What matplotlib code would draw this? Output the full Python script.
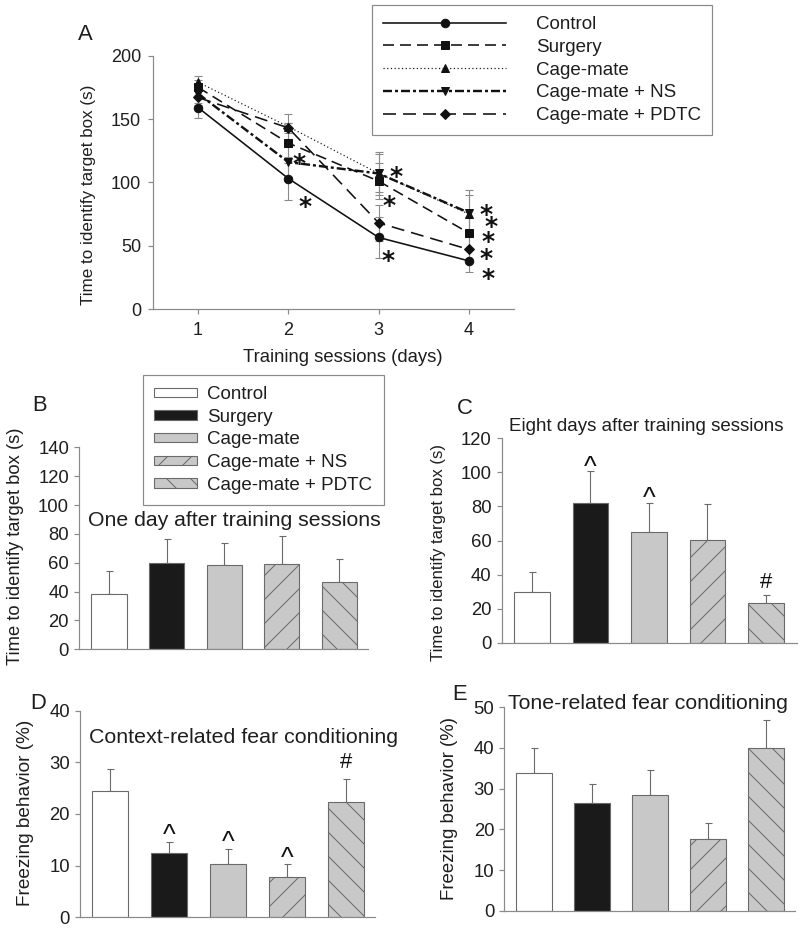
import matplotlib
matplotlib.use('Agg')
import matplotlib.pyplot as plt
from matplotlib.lines import Line2D
from matplotlib.patches import Patch
import numpy as np

plt.rcParams['font.family'] = ['Liberation Sans', 'DejaVu Sans']
plt.rcParams['lines.scale_dashes'] = False
plt.rcParams['hatch.linewidth'] = 1.0

W, H, DPI = 800, 928, 72

# ---------------- data ----------------
days = [1, 2, 3, 4]
groups = ['Control', 'Surgery', 'Cage-mate', 'Cage-mate + NS', 'Cage-mate + PDTC']

control_a = [159, 103, 56.5, 38]
surgery_a = [175, 131, 101, 60]
cagemate_a = [179, 144, 107, 75]
ns_a = [170, 116, 107, 76]
pdtc_a = [167, 143, 68, 47]

control_a_err = [8, 17, 16, 9]
surgery_a_err = [6, 16, 14, 12]
cagemate_a_err = [5, 10, 17, 15]
ns_a_err = [7, 12, 15, 18]
pdtc_a_err = [6, 4, 14, 10]

star_x = [2.12, 2.18, 3.19, 3.12, 3.11, 4.19, 4.25, 4.21, 4.19, 4.21]
star_y = [120, 86, 110, 86.5, 43.5, 79.6, 70, 58.5, 45.3, 29.5]

b_mean = [38.4, 59.6, 58.2, 58.9, 46.7]
b_err = [16.1, 17.1, 15.7, 19.4, 16.1]
c_mean = [29.6, 82.2, 65.2, 60.3, 23.1]
c_err = [11.7, 18.6, 16.6, 20.9, 4.7]
d_mean = [24.5, 12.4, 10.3, 7.8, 22.3]
d_err = [4.2, 2.1, 2.9, 2.5, 4.4]
e_mean = [33.8, 26.4, 28.4, 17.6, 40.1]
e_err = [6.1, 4.7, 6.2, 3.9, 6.8]

c_marks = ['', '^', '^', '', '#']
c_mark_y = [0, 107, 88.7, 0, 36.8]
d_marks = ['', '^', '^', '^', '#']
d_mark_y = [0, 17.2, 15.9, 12.7, 30.4]

# ---------------- helpers ----------------
def rect(l, t, r, b):
    return [l / W, 1 - b / H, (r - l) / W, (b - t) / H]

def fx(px):
    return px / W

def fy(py):
    return 1 - py / H

TXT = '#1e1e1e'
GRAY = '#8a8a8a'
EDGE = '#6a6a6a'

fig = plt.figure(figsize=(W / DPI, H / DPI), dpi=DPI)

def style_axes(ax, labelsize):
    for s in ['top', 'right']:
        ax.spines[s].set_visible(False)
    for s in ['left', 'bottom']:
        ax.spines[s].set_color(GRAY)
        ax.spines[s].set_linewidth(1.2)
    ax.tick_params(axis='y', length=5, width=1.2, color=GRAY, pad=5,
                   labelsize=labelsize, labelcolor=TXT)

# ---------------- Panel A ----------------
axA = fig.add_axes(rect(153, 55.7, 514, 309))
style_axes(axA, 18)
axA.tick_params(axis='x', length=5, width=1.2, color=GRAY, pad=8,
                labelsize=18, labelcolor=TXT)
axA.tick_params(axis='y', pad=7)

series = [control_a, surgery_a, cagemate_a, ns_a, pdtc_a]
series_err = [control_a_err, surgery_a_err, cagemate_a_err, ns_a_err, pdtc_a_err]
line_styles = [
    dict(ls='-', lw=1.6, marker='o', ms=8.5),
    dict(ls=(0, (11, 6)), lw=1.6, marker='s', ms=7.5),
    dict(ls=(0, (1.2, 2.5)), lw=1.2, marker='^', ms=8.5),
    dict(ls=(0, (9, 3, 3, 3)), lw=2.4, marker='v', ms=8.5),
    dict(ls=(0, (13, 7)), lw=1.6, marker='D', ms=7),
]
for vals, err in zip(series, series_err):
    axA.errorbar(days, vals, yerr=err, fmt='none', ecolor=GRAY, elinewidth=1.1,
                 capsize=4, capthick=1.1, zorder=1)
handlesA = []
for vals, st in zip(series, line_styles):
    axA.plot(days, vals, color='#111111', mfc='#111111', mec='#111111',
             zorder=3, **st)
    handlesA.append(Line2D([], [], color='#111111', mfc='#111111', mec='#111111', **st))

for x, y in zip(star_x, star_y):
    axA.annotate('*', (x, y), xytext=(0, -7), textcoords='offset pixels',
                 ha='center', va='center', fontsize=25, fontweight='bold',
                 color='#111111', family='DejaVu Sans')

axA.set_xlim(0.5, 4.5)
axA.set_ylim(0, 200)
axA.set_xticks(days)
axA.set_yticks([0, 50, 100, 150, 200])
axA.set_ylabel('Time to identify target box (s)', fontsize=17, color=TXT)
axA.yaxis.label.set_va('center')
axA.yaxis.set_label_coords(fx(88.5), fy(195), transform=fig.transFigure)
axA.set_xlabel('Training sessions (days)', fontsize=18.5, color=TXT)
axA.xaxis.label.set_va('center')
axA.xaxis.set_label_coords(fx(343), fy(357), transform=fig.transFigure)

legA = fig.legend(handlesA, groups, loc='upper left',
                  bbox_to_anchor=(fx(372), fy(5)), borderaxespad=0,
                  fontsize=18.7, handlelength=123 / 18.7, handletextpad=30 / 18.7,
                  labelspacing=0.3, borderpad=0.6, numpoints=1,
                  fancybox=False, framealpha=1, edgecolor=GRAY)
legA.get_frame().set_linewidth(1.2)
for t in legA.get_texts():
    t.set_color(TXT)

# ---------------- bar panels ----------------
fills = ['#ffffff', '#1a1a1a', '#c8c8c8', '#c8c8c8', '#c8c8c8']
hatches = ['', '', '', '/', '\\']

def bar_panel(box, means, errs, xlim, ylim, yticks):
    ax = fig.add_axes(rect(*box))
    style_axes(ax, 18.5)
    ax.tick_params(axis='x', length=0, labelbottom=False)
    x = np.arange(len(means))
    for i in range(len(means)):
        ax.bar(x[i], means[i], width=0.61, color=fills[i], edgecolor=EDGE,
               hatch=hatches[i], linewidth=1.1, zorder=2)
    ax.errorbar(x, means, yerr=[np.zeros(len(errs)), errs], fmt='none',
                ecolor=EDGE, elinewidth=1.1, capsize=3.5, capthick=1.1, zorder=1)
    ax.set_xlim(*xlim)
    ax.set_ylim(*ylim)
    ax.set_yticks(yticks)
    return ax

axB = bar_panel((79, 447.3, 368.3, 649.3), b_mean, b_err, (-0.52, 4.5), (0, 140),
                range(0, 141, 20))
axC = bar_panel((501.7, 438.3, 796.7, 642.7), c_mean, c_err, (-0.52, 4.53), (0, 120),
                range(0, 121, 20))
axD = bar_panel((80, 710.7, 375, 917.3), d_mean, d_err, (-0.5, 4.49), (0, 40),
                range(0, 41, 10))
axE = bar_panel((504.3, 707.3, 795, 910.7), e_mean, e_err, (-0.51, 4.5), (0, 50),
                range(0, 51, 10))

def ylab(ax, text, size, px, py):
    ax.set_ylabel(text, fontsize=size, color=TXT)
    ax.yaxis.label.set_va('center')
    ax.yaxis.set_label_coords(fx(px), fy(py), transform=fig.transFigure)

ylab(axB, 'Time to identify target box (s)', 18.4, 15.5, 546)
ylab(axC, 'Time to identify target box (s)', 16.8, 438.5, 552.5)
ylab(axD, 'Freezing behavior (%)', 19, 25.5, 813)
ylab(axE, 'Freezing behavior (%)', 18.6, 449.5, 808.5)

def marks(ax, labels, ys):
    for i, (m, y) in enumerate(zip(labels, ys)):
        if not m:
            continue
        if m == '^':
            ax.annotate(m, (i, y), xytext=(0, -7.5), textcoords='offset pixels',
                        ha='center', va='center', fontsize=27, color='#111111')
        else:
            ax.annotate(m, (i, y), xytext=(0, -2.3), textcoords='offset pixels',
                        ha='center', va='center', fontsize=22, color='#111111')

marks(axC, c_marks, c_mark_y)
marks(axD, d_marks, d_mark_y)

handlesB = [Patch(facecolor=f, edgecolor=EDGE, hatch=h, linewidth=1.1)
            for f, h in zip(fills, hatches)]
legB = fig.legend(handlesB, groups, loc='upper left',
                  bbox_to_anchor=(fx(142.7), fy(375)), borderaxespad=0,
                  fontsize=18.7, handlelength=42.7 / 18.7, handleheight=0.4,
                  handletextpad=10.7 / 18.7, labelspacing=0.3, borderpad=0.6,
                  fancybox=False, framealpha=1, edgecolor=GRAY)
legB.get_frame().set_linewidth(1.2)
for t in legB.get_texts():
    t.set_color(TXT)

# ---------------- titles and panel letters ----------------
fig.text(fx(234), fy(520), 'One day after training sessions', fontsize=21.3,
         ha='center', va='center', color=TXT)
fig.text(fx(646.7), fy(426.7), 'Eight days after training sessions', fontsize=18.7,
         ha='center', va='center', color=TXT)
fig.text(fx(243.3), fy(737.3), 'Context-related fear conditioning', fontsize=21.4,
         ha='center', va='center', color=TXT)
fig.text(fx(648.3), fy(703.3), 'Tone-related fear conditioning', fontsize=21.3,
         ha='center', va='center', color=TXT)

for letter, px, py in [('A', 85.5, 34.5), ('B', 39.5, 405.5), ('C', 465, 408),
                       ('D', 38.5, 703.5), ('E', 460, 694.5)]:
    fig.text(fx(px), fy(py), letter, fontsize=22, ha='center', va='center', color=TXT)

fig.savefig('out.png', dpi=DPI, facecolor='white')
